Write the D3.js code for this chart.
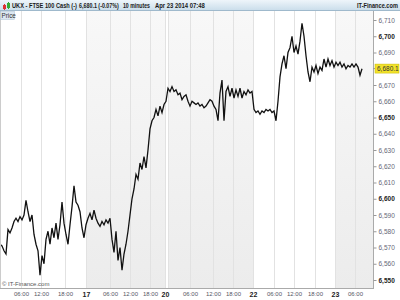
<!DOCTYPE html>
<html>
<head>
<meta charset="utf-8">
<script src="https://cdn.jsdelivr.net/npm/d3@7"></script>
<style>
  body { margin: 0; background: #fff; }
  svg { display: block; font-family: "Liberation Sans", Arial, sans-serif; }
</style>
</head>
<body>
<svg id="chart" width="400" height="300"></svg>
<script>
// price, one value every bar step
var prices = [
  6572, 6571, 6568, 6566, 6581, 6579, 6582, 6586, 6588, 6586,
  6589, 6587, 6590, 6599, 6592, 6586, 6590, 6578, 6572, 6568,
  6553, 6565, 6560, 6575, 6580, 6572, 6582, 6576, 6585, 6575,
  6584, 6598, 6585, 6578, 6572, 6584, 6595, 6608, 6598, 6596,
  6592, 6582, 6576, 6584, 6588, 6591, 6587, 6593, 6588, 6585,
  6583, 6586, 6584, 6587, 6585, 6588, 6575, 6567, 6580, 6562,
  6570, 6556, 6566, 6572, 6580, 6590, 6600, 6606, 6615, 6612,
  6622, 6618, 6626, 6619, 6630, 6643, 6648, 6650, 6655, 6651,
  6657, 6653, 6658, 6660, 6668, 6666, 6669, 6666, 6667, 6664,
  6665, 6661, 6663, 6664, 6660, 6657, 6660, 6659, 6658, 6659,
  6657, 6658, 6656, 6657, 6659, 6661, 6660, 6657, 6655, 6648,
  6665, 6673, 6648, 6666, 6669, 6663, 6668, 6662, 6667, 6663,
  6668, 6662, 6666, 6664, 6667, 6665, 6666, 6655, 6653, 6654,
  6652, 6654, 6653, 6655, 6654, 6655, 6653, 6654, 6648, 6660,
  6675, 6683, 6688, 6680, 6690, 6693, 6700, 6690, 6694, 6689,
  6697, 6708, 6700, 6688, 6678, 6672, 6681, 6678, 6682, 6677,
  6681, 6679, 6686, 6681, 6686, 6682, 6685, 6681, 6684, 6682,
  6684, 6681, 6683, 6680, 6682, 6681, 6683, 6681, 6683, 6681,
  6676, 6680
];

var xTickPos = [10.5, 20.5, 32.5, 43, 55, 65, 75, 82.5, 84, 95, 106.5, 116.5, 126.5, 137, 147, 157.5, 167.5, 177.5];
var xTickLabels = ["06:00", "12:00", "18:00", "17", "06:00", "12:00", "18:00", "20", "", "06:00", "12:00", "18:00", "22", "06:00", "12:00", "18:00", "23", "06:00"];
var dayTicks = ["17", "20", "22", "23"];

// shaded day sessions [start, end] in bar steps
var shadedDays = [[43, 82.5], [84, 126.5], [167.5, 186.5]];

var yTicks = [6550, 6560, 6570, 6580, 6590, 6600, 6610, 6620, 6630, 6640, 6650, 6660, 6670, 6690, 6700, 6710];
var majorYTicks = [6550, 6600, 6650, 6700];

var lastPrice = 6680.1;
// header pieces: text, start x, width
var headerParts = [
  ["UKX - FTSE 100 Cash (-)", 12, 65],
  ["6,680.1 (-0.07%)", 79, 40],
  ["10 minutes", 123, 27],
  ["Apr 23 2014 07:48", 155, 50],
  ["IT-Finance.com", 357, 41]
];
var brandText = "IT-Finance.com";

var svg = d3.select("#chart");
var W = 400, H = 300;
var plot = {left: 0, right: 373, top: 11, bottom: 288};

var x = d3.scaleLinear().domain([0, 186.5]).range([plot.left, plot.right]);
var y = d3.scaleLinear().domain([6550, 6710]).range([280, 20]);
var fmt = d3.format(",.0f");

var defs = svg.append("defs");
var hg = defs.append("linearGradient").attr("id", "hdr").attr("x1", 0).attr("y1", 0).attr("x2", 0).attr("y2", 1);
hg.append("stop").attr("offset", "0%").attr("stop-color", "#eef5fa");
hg.append("stop").attr("offset", "100%").attr("stop-color", "#c8dcea");
var sg = defs.append("linearGradient").attr("id", "shade").attr("x1", 0).attr("y1", 0).attr("x2", 0).attr("y2", 1);
sg.append("stop").attr("offset", "0%").attr("stop-color", "#f8f8f8");
sg.append("stop").attr("offset", "100%").attr("stop-color", "#ececec");
defs.append("clipPath").attr("id", "clip").append("rect")
  .attr("x", plot.left).attr("y", plot.top)
  .attr("width", plot.right - plot.left).attr("height", plot.bottom - plot.top);

// shaded sessions
svg.append("g").selectAll("rect").data(shadedDays).enter().append("rect")
  .attr("x", function(d) {return x(d[0])})
  .attr("y", plot.top)
  .attr("width", function(d) {return x(d[1]) - x(d[0])})
  .attr("height", plot.bottom - plot.top)
  .attr("fill", "url(#shade)");

// vertical grid
svg.append("g").selectAll("line").data(xTickPos).enter().append("line")
  .attr("x1", function(d) {return Math.round(x(d)) + 0.5})
  .attr("x2", function(d) {return Math.round(x(d)) + 0.5})
  .attr("y1", plot.top).attr("y2", plot.bottom)
  .attr("stroke", "#e2e2e2").attr("stroke-width", 1);

// price line
var line = d3.line()
  .x(function(d, i) {return x(i)})
  .y(function(d) {return y(d)});
svg.append("path").datum(prices)
  .attr("clip-path", "url(#clip)")
  .attr("d", line)
  .attr("fill", "none")
  .attr("stroke", "#111")
  .attr("stroke-width", 1.3)
  .attr("stroke-linejoin", "miter");

// axes frame
svg.append("line").attr("x1", plot.right + 0.5).attr("x2", plot.right + 0.5)
  .attr("y1", plot.top).attr("y2", plot.bottom).attr("stroke", "#aaa");
svg.append("line").attr("x1", 0).attr("x2", plot.right + 1)
  .attr("y1", plot.bottom + 0.5).attr("y2", plot.bottom + 0.5).attr("stroke", "#aaa");
svg.append("line").attr("x1", 0.5).attr("x2", 0.5)
  .attr("y1", plot.top).attr("y2", plot.bottom).attr("stroke", "#ccc");

// right axis
var yAxis = d3.axisRight(y).tickValues(yTicks).tickSize(3).tickPadding(2)
  .tickFormat(function(d) {return fmt(d)});
var yg = svg.append("g").attr("transform", "translate(" + (plot.right + 0.5) + ",0)").call(yAxis);
yg.select(".domain").remove();
yg.selectAll(".tick line").attr("stroke", "#999");
yg.selectAll(".tick text")
  .attr("font-size", 6.5)
  .attr("fill", function(d) {return majorYTicks.indexOf(d) >= 0 ? "#222" : "#667"})
  .attr("font-weight", function(d) {return majorYTicks.indexOf(d) >= 0 ? "bold" : "normal"});

// last price marker
var lpY = y(lastPrice);
svg.append("line").attr("x1", plot.right).attr("x2", plot.right + 3)
  .attr("y1", lpY).attr("y2", lpY).attr("stroke", "#999");
svg.append("rect").attr("x", plot.right + 2).attr("y", lpY - 4.5)
  .attr("width", 24).attr("height", 9)
  .attr("fill", "#f2e22a").attr("stroke", "#c8b800").attr("stroke-width", 0.5);
svg.append("text").attr("x", plot.right + 4).attr("y", lpY + 2.3)
  .attr("font-size", 6.5).attr("fill", "#333").text(d3.format(",.1f")(lastPrice));

// bottom axis
var xAxis = d3.axisBottom(x).tickValues(xTickPos).tickSize(0).tickPadding(4)
  .tickFormat(function(d, i) {return xTickLabels[i]});
var xg = svg.append("g").attr("transform", "translate(0," + plot.bottom + ")").call(xAxis);
xg.select(".domain").remove();
xg.selectAll(".tick text")
  .attr("font-size", function(d, i) {return dayTicks.indexOf(xTickLabels[i]) >= 0 ? 7 : 6})
  .attr("font-weight", function(d, i) {return dayTicks.indexOf(xTickLabels[i]) >= 0 ? "bold" : "normal"})
  .attr("fill", function(d, i) {return dayTicks.indexOf(xTickLabels[i]) >= 0 ? "#222" : "#556"});

// watermark
svg.append("text").attr("x", 2).attr("y", 286).attr("font-size", 6)
  .attr("fill", "#555").text("\u00a9 " + brandText);

// header bar
svg.append("rect").attr("x", 0).attr("y", 0).attr("width", W).attr("height", 11)
  .attr("fill", "url(#hdr)");
svg.append("line").attr("x1", 0).attr("x2", W).attr("y1", 10.5).attr("y2", 10.5)
  .attr("stroke", "#9fb9cc");
// tiny candle icon
svg.append("rect").attr("x", 3).attr("y", 5).attr("width", 3).attr("height", 4).attr("fill", "#d33");
svg.append("line").attr("x1", 4.5).attr("x2", 4.5).attr("y1", 4).attr("y2", 10).attr("stroke", "#d33");
svg.append("rect").attr("x", 7).attr("y", 3).attr("width", 3).attr("height", 5).attr("fill", "#3a3");
svg.append("line").attr("x1", 8.5).attr("x2", 8.5).attr("y1", 2).attr("y2", 9).attr("stroke", "#3a3");

// header texts, squeezed horizontally to the widths seen in the picture
var hdr = svg.append("g").attr("font-size", 7).attr("font-weight", "bold").attr("fill", "#1a1a1a");
hdr.selectAll("g").data(headerParts).enter().append("g")
  .each(function(d) {
    var g = d3.select(this);
    var t = g.append("text").attr("x", 0).attr("y", 0).text(d[0]);
    var natural = t.node().getComputedTextLength();
    var sx = d[2] / natural;
    g.attr("transform", "translate(" + d[1] + ",8) scale(" + sx + ",1)");
  });

// "Price" tab
svg.append("rect").attr("x", 0.5).attr("y", 11.5).attr("width", 14).attr("height", 8)
  .attr("fill", "#dbe7f1").attr("stroke", "#a9bfd0").attr("stroke-width", 0.5);
svg.append("text").attr("x", 1.5).attr("y", 18).attr("font-size", 6.3).attr("fill", "#333").text("Price");
</script>
</body>
</html>
